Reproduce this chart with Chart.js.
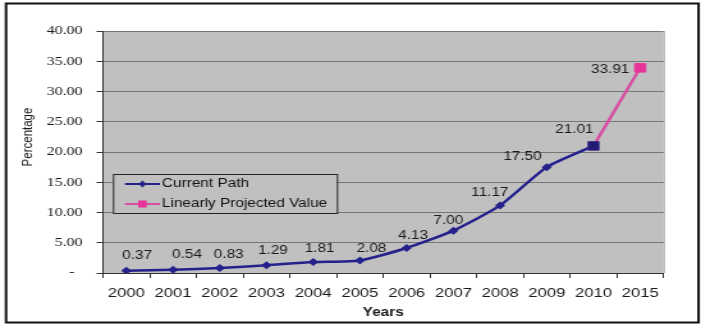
<!DOCTYPE html>
<html>
<head>
<meta charset="utf-8">
<script src="https://cdn.jsdelivr.net/npm/chart.js@4/dist/chart.umd.min.js"></script>
<style>
  html, body { margin: 0; padding: 0; background: #fff; overflow: hidden; }
  #wrap { width: 548px; height: 325px; transform: scaleX(1.2792); transform-origin: 0 0; }
  canvas { display: block; }
</style>
</head>
<body>
<div id="wrap"><canvas id="c" width="548" height="325"></canvas></div>
<script>
// Categories and series
const years = ['2000', '2001', '2002', '2003', '2004', '2005', '2006', '2007', '2008', '2009', '2010', '2015'];
const currentPath = [0.37, 0.54, 0.83, 1.29, 1.81, 2.08, 4.13, 7.00, 11.17, 17.50, 21.01, null];
const projected = [null, null, null, null, null, null, null, null, null, null, 21.01, 33.91];
const seriesNames = ['Current Path', 'Linearly Projected Value'];
const yAxisTitle = 'Percentage';
const xAxisTitle = 'Years';

const NAVY = '#24218c';
const PINK = '#d64fa4';
const PLOT_BG = '#c0c0c0';

// Value label placement around each point (dx, dy in px)
const labelOffsets = [
  [8.5, -15], [11, -15], [7, -13], [5, -15], [5, -13], [9, -12],
  [5, -12], [-4, -10], [-8, -13], [-19, -10], [-15, -16], [-23.5, 2]
];

const decor = {
  id: 'decor',
  beforeDraw(chart) {
    const { ctx, chartArea: a } = chart;
    ctx.save();
    ctx.fillStyle = '#fff';
    ctx.fillRect(0, 0, chart.width, chart.height);
    ctx.fillStyle = PLOT_BG;
    ctx.fillRect(a.left, a.top, a.right - a.left, a.bottom - a.top);
    ctx.strokeStyle = '#a9a9a9';
    ctx.lineWidth = 1;
    ctx.beginPath();
    ctx.moveTo(a.right + 0.5, a.top);
    ctx.lineTo(a.right + 0.5, a.bottom);
    ctx.stroke();
    ctx.restore();
  },
  afterDatasetsDraw(chart) {
    const { ctx } = chart;
    ctx.save();

    // value labels
    ctx.font = '12px "Liberation Sans", Arial, sans-serif';
    ctx.fillStyle = '#1a1a1a';
    ctx.textAlign = 'center';
    ctx.textBaseline = 'middle';
    const m0 = chart.getDatasetMeta(0);
    currentPath.forEach((v, i) => {
      if (v === null) return;
      const p = m0.data[i];
      const [dx, dy] = labelOffsets[i];
      ctx.fillText(v.toFixed(2), p.x + dx, p.y + dy);
    });
    const m1 = chart.getDatasetMeta(1);
    projected.forEach((v, i) => {
      if (v === null || currentPath[i] !== null) return;
      const p = m1.data[i];
      const [dx, dy] = labelOffsets[i];
      ctx.fillText(v.toFixed(2), p.x + dx, p.y + dy);
    });

    // legend box
    const lx = 88.3, ly = 174, lw = 175, lh = 39;
    ctx.fillStyle = PLOT_BG;
    ctx.fillRect(lx, ly, lw, lh);
    ctx.strokeStyle = '#222';
    ctx.lineWidth = 1;
    ctx.strokeRect(lx + 0.5, ly + 0.5, lw, lh);

    const rows = [184, 204];
    const x1 = 97.7, x2 = 125, xm = (x1 + x2) / 2;
    // Current Path entry
    ctx.strokeStyle = NAVY;
    ctx.lineWidth = 2;
    ctx.beginPath(); ctx.moveTo(x1, rows[0]); ctx.lineTo(x2, rows[0]); ctx.stroke();
    ctx.fillStyle = NAVY;
    ctx.beginPath();
    ctx.moveTo(xm, rows[0] - 3.5); ctx.lineTo(xm + 3, rows[0]);
    ctx.lineTo(xm, rows[0] + 3.5); ctx.lineTo(xm - 3, rows[0]);
    ctx.closePath(); ctx.fill();
    // Projected entry
    ctx.strokeStyle = PINK;
    ctx.beginPath(); ctx.moveTo(x1, rows[1]); ctx.lineTo(x2, rows[1]); ctx.stroke();
    ctx.fillStyle = '#e8339a';
    ctx.fillRect(xm - 3.3, rows[1] - 3.5, 6.6, 7);

    ctx.fillStyle = '#111';
    ctx.textAlign = 'left';
    ctx.font = '12px "Liberation Sans", Arial, sans-serif';
    ctx.fillText(seriesNames[0], 126.6, rows[0]);
    ctx.fillText(seriesNames[1], 126.6, rows[1]);

    // y axis title
    ctx.save();
    ctx.translate(21.9, 137);
    ctx.rotate(-Math.PI / 2);
    ctx.textAlign = 'center';
    ctx.font = '11.5px "Liberation Sans", Arial, sans-serif';
    ctx.fillStyle = '#1a1a1a';
    ctx.fillText(yAxisTitle, 0, 0);
    ctx.restore();

    // outer frame
    ctx.strokeStyle = '#111';
    ctx.lineWidth = 2;
    ctx.strokeRect(4.7, 3.5, 541.4, 319);
    ctx.restore();
  }
};

new Chart(document.getElementById('c'), {
  type: 'line',
  data: {
    labels: years,
    datasets: [
      {
        label: seriesNames[0],
        data: currentPath,
        borderColor: NAVY,
        backgroundColor: NAVY,
        borderWidth: 2.5,
        tension: 0.2,
        pointStyle: 'rectRot',
        pointRadius: 4,
        pointBorderWidth: 0,
        spanGaps: false,
        order: 1
      },
      {
        label: seriesNames[1],
        data: projected,
        borderColor: PINK,
        backgroundColor: ['#1e1b70', '#1e1b70', '#1e1b70', '#1e1b70', '#1e1b70', '#1e1b70',
                          '#1e1b70', '#1e1b70', '#1e1b70', '#1e1b70', '#1e1b70', '#e8339a'],
        pointBorderColor: ['#3b2a8c', '#3b2a8c', '#3b2a8c', '#3b2a8c', '#3b2a8c', '#3b2a8c',
                           '#3b2a8c', '#3b2a8c', '#3b2a8c', '#3b2a8c', '#3b2a8c', '#e8339a'],
        pointBorderWidth: 1,
        borderWidth: 2.5,
        tension: 0,
        pointStyle: 'rect',
        pointRadius: 6,
        order: 0
      }
    ]
  },
  options: {
    responsive: false,
    animation: false,
    events: [],
    layout: { padding: { left: 0, top: 31, right: 29.25, bottom: 5 } },
    plugins: { legend: { display: false }, tooltip: { enabled: false } },
    scales: {
      x: {
        offset: true,
        grid: { offset: true, drawOnChartArea: false, drawTicks: true, tickLength: 5, tickColor: '#333' },
        border: { color: '#333', width: 1 },
        ticks: {
          padding: 8,
          color: '#1a1a1a',
          autoSkip: false,
          maxRotation: 0,
          font: { family: '"Liberation Sans", Arial, sans-serif', size: 13 }
        },
        title: {
          display: true,
          text: xAxisTitle,
          color: '#1a1a1a',
          padding: { top: 0, bottom: 0 },
          font: { family: '"Liberation Sans", Arial, sans-serif', size: 12, weight: 'bold' }
        },
        afterFit(scale) { scale.height = 47; }
      },
      y: {
        min: 0,
        max: 40,
        ticks: {
          stepSize: 5,
          padding: 11,
          color: '#1a1a1a',
          font: { family: '"Liberation Serif", "Times New Roman", serif', size: 12.5 },
          callback: v => (v === 0 ? '-  ' : Number(v).toFixed(2))
        },
        grid: { color: '#767676', lineWidth: 1, tickLength: 5, tickColor: '#333' },
        border: { color: '#333', width: 1 },
        afterFit(scale) { scale.width = 80.5; }
      }
    }
  },
  plugins: [decor]
});
</script>
</body>
</html>
